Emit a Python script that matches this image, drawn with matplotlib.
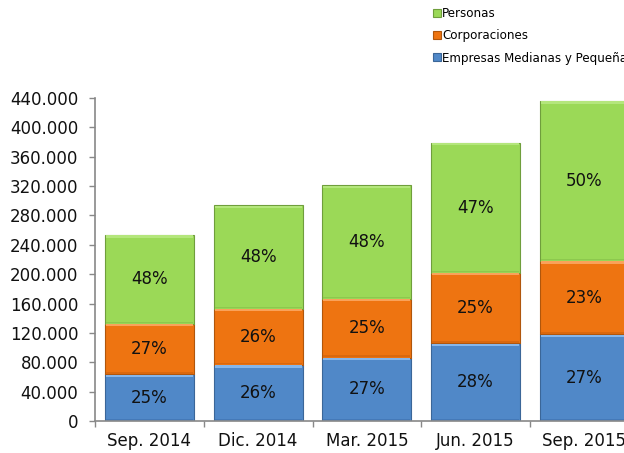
import matplotlib
matplotlib.use("Agg")
import matplotlib.pyplot as plt
import numpy as np
from matplotlib.ticker import FuncFormatter, FixedLocator
from matplotlib.patches import Patch

categories = ["Sep. 2014", "Dic. 2014", "Mar. 2015", "Jun. 2015", "Sep. 2015"]
empresas = [64000, 76500, 86500, 106000, 118000]
corporaciones = [68500, 76500, 80000, 96000, 100000]
personas = [121000, 141000, 154500, 177000, 218000]
series_names = ["Empresas Medianas y Pequeña", "Corporaciones", "Personas"]
yticks = [0, 40000, 80000, 120000, 160000, 200000, 240000, 280000, 320000, 360000, 400000, 440000]

colors = ["#5088C8", "#EE7411", "#9BD957"]
edges = ["#3B6698", "#B0560C", "#6F9E3C"]
lights = ["#86B6EA", "#F9A25A", "#B4E67C"]
darks = ["#4479B8", "#DA680E", "#8CC84E"]

plt.rcParams['font.family'] = ['DejaVu Sans']

fig = plt.figure(figsize=(6.24, 4.53), dpi=100)
ax = fig.add_axes([95/624, 32/453, 543.75/624, 323/453])

x = np.arange(len(categories))
width = 0.82
series = [empresas, corporaciones, personas]
totals = np.sum(series, axis=0)
bottom = np.zeros(len(categories))
hl = 3000  # bevel strip height in data units
for vals, c, e, l, d in zip(series, colors, edges, lights, darks):
    vals = np.array(vals, dtype=float)
    ax.bar(x, vals, width, bottom=bottom, color=c, edgecolor=e, linewidth=0.8, zorder=2)
    ax.bar(x, hl, width * 0.975, bottom=bottom + vals - hl - 700, color=l, linewidth=0, zorder=3)
    ax.bar(x, hl * 0.7, width * 0.975, bottom=bottom + 700, color=d, linewidth=0, zorder=3)
    for xi, b, v, t in zip(x, bottom, vals, totals):
        ax.text(xi, b + v / 2, f"{round(100 * v / t):.0f}%", ha="center", va="center",
                fontsize=12, color="#111111", zorder=4)
    bottom = bottom + vals

ax.set_xlim(-0.5, 4.5)
ax.set_ylim(0, 440000)
ax.set_yticks(yticks)
ax.yaxis.set_major_formatter(FuncFormatter(lambda v, p: f"{int(v):,}".replace(",", ".")))
ax.set_xticks(x)
ax.set_xticklabels(categories)
ax.xaxis.set_minor_locator(FixedLocator(np.arange(-0.5, 5.0, 1.0)))
ax.tick_params(axis="x", which="major", length=0, pad=8, labelsize=12, colors="#111111")
ax.tick_params(axis="x", which="minor", length=4, direction="out", color="#888888", width=1)
ax.tick_params(axis="y", length=4, direction="out", color="#888888", width=1, pad=8,
               labelsize=12, labelcolor="#111111")
for s in ["top", "right"]:
    ax.spines[s].set_visible(False)
for s in ["left", "bottom"]:
    ax.spines[s].set_color("#888888")
    ax.spines[s].set_linewidth(1.2)

handles = [Patch(facecolor=colors[i], edgecolor=edges[i], linewidth=0.8) for i in [2, 1, 0]]
labels = [series_names[i] for i in [2, 1, 0]]
fig.legend(handles, labels, loc="upper left", bbox_to_anchor=(433/624, 1 - 7/453),
           frameon=False, fontsize=8.6, handlelength=0.65, handleheight=0.65,
           handletextpad=0.12, labelspacing=0.78, borderpad=0, borderaxespad=0)

fig.savefig("out.png", dpi=100)
